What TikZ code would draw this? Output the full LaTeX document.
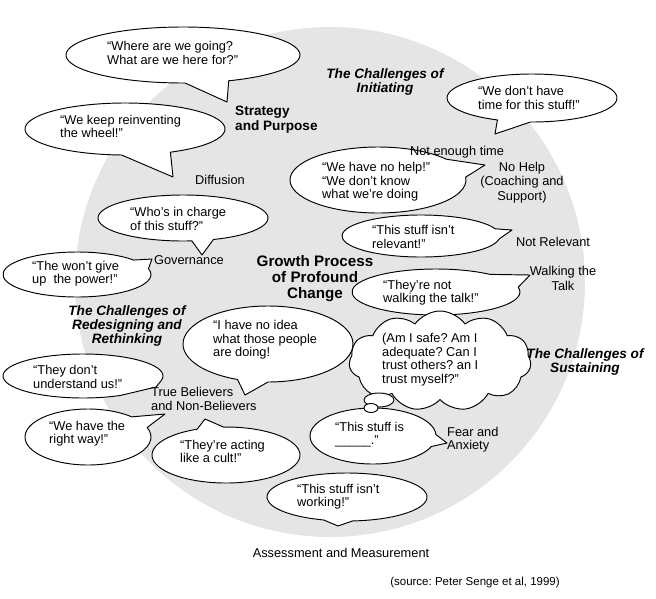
\documentclass[tikz,border=0pt]{standalone}
\usepackage{fontspec}
\setmainfont{Liberation Sans}
\usetikzlibrary{shapes.symbols}
\frenchspacing
\tikzset{
  bubble/.style={draw=black, line width=0.95pt, fill=white, line join=round},
  txt/.style={inner sep=0pt, align=left, anchor=west, font=\fontsize{12.8}{13.6}\selectfont},
  ctxt/.style={inner sep=0pt, align=center, font=\fontsize{12.8}{14.2}\selectfont},
  head/.style={inner sep=0pt, align=center, font=\fontsize{13.6}{14.2}\selectfont\bfseries\itshape},
  bold/.style={inner sep=0pt, align=left, anchor=west, font=\fontsize{13.6}{15}\selectfont\bfseries},
  title/.style={inner sep=0pt, align=center, font=\fontsize{15.2}{16}\selectfont\bfseries},
}
% name, cx, cy, rx, ry, t1, t2, tipx, tipy
\newcommand{\speechbub}[9]{%
  \coordinate (#1) at (#2,-#3);
  \coordinate (#1tip) at (#8,-#9);
  \draw[bubble] (#1) ++(#7:#4pt and #5pt)
    arc[start angle=#7, end angle=#6+360, x radius=#4pt, y radius=#5pt]
    -- (#1tip) -- cycle;
}
\begin{document}
\frenchspacing
\begin{tikzpicture}[x=1pt,y=1pt]
\useasboundingbox (0,0) rectangle (656,-598);
\fill[black!10] (330,-282) circle[radius=255pt];

\speechbub{where}{183}{55}{117}{28}{-89}{-67}{227}{102}
\speechbub{wheel}{125}{129}{100}{26}{-92}{-63}{173}{177}
\speechbub{time}{532}{98}{85}{24}{-114}{-91}{495}{134}
\speechbub{help}{378}{180}{88}{33}{5}{39}{485}{165}
\speechbub{relev}{421}{236}{79}{21}{-8}{20}{512}{230}
\speechbub{charge}{183}{218}{85}{23}{-84}{-69}{202}{255}
\speechbub{power}{77}{274.5}{74}{22.5}{15}{40}{152}{259}
\speechbub{idea}{268}{344}{85}{38}{-111}{-90}{245}{395}
\speechbub{under}{83}{376}{80}{22}{-62}{-12}{156}{387}
\speechbub{right}{88}{437}{63}{28}{20}{46}{165}{414}
\speechbub{cult}{226}{455}{74}{28}{92}{113}{205}{419}
\speechbub{walk}{436}{292}{84}{23}{12}{50}{530}{275}

\node[cloud, bubble, cloud puffs=11, cloud puff arc=110, aspect=1.9,
      minimum width=182pt, minimum height=100pt, inner sep=0pt] (cloud) at (440,-361) {};
\speechbub{blank}{373}{436}{63}{28}{-22}{3}{447}{443}
\draw[bubble] (379,-400) ellipse[x radius=15pt, y radius=7pt];
\draw[bubble] (371,-408) ellipse[x radius=7pt, y radius=4.5pt];
\speechbub{work}{347}{497}{80}{24}{-107}{-86}{338}{526}

% bubble texts
\node[txt] (twhere) at (107,-53) {“Where are we going?\\What are we here for?”};
\node[txt] (twheel) at (60,-126.5) {“We keep reinventing\\the wheel!”};
\node[txt] (ttime) at (478,-98) {“We don’t have\\time for this stuff!”};
\node[txt] (thelp) at (322,-182) {“We have no help!”\\“We don’t know\\what we’re doing};
\node[txt] (trelev) at (372,-237) {“This stuff isn’t\\relevant!”};
\node[txt] (tcharge) at (130,-219) {“Who’s in charge\\of this stuff?”};
\node[txt] (tpower) at (32,-273.5) {“The won’t give\\up\ \ the power!”};
\node[txt] (tidea) at (213,-340) {“I have no idea\\what those people\\are doing!};
\node[txt] (tunder) at (33,-377) {“They don’t\\understand us!”};
\node[txt] (tright) at (49,-433.5) {“We have the\\right way!”};
\node[txt] (tcult) at (180,-451.5) {“They’re acting\\like a cult!”};
\node[txt] (twalk) at (383,-292.5) {“They’re not\\walking the talk!”};
\node[txt] (tcloud) at (382,-359.5) {(Am I safe? Am I\\adequate? Can I\\trust others? an I\\trust myself?”};
\node[txt] (tblank) at (335,-434.5) {“This stuff is\\\_\_\_\_\_.”};
\node[txt] (twork) at (297,-496.5) {“This stuff isn’t\\working!”};

% labels
\node[bold] (strategy) at (235,-119.5) {Strategy\\and Purpose};
\node[head] (initiating) at (385,-82) {The Challenges of\\Initiating};
\node[ctxt] (notime) at (457,-152) {Not enough time};
\node[ctxt] (nohelp) at (522,-182.5) {No Help\\(Coaching and\\Support)};
\node[ctxt] (diffusion) at (220,-180) {Diffusion};
\node[ctxt] (notrel) at (553,-242) {Not Relevant};
\node[ctxt] (governance) at (189,-260) {Governance};
\node[title] (growth) at (315,-279) {Growth Process\\of Profound\\Change};
\node[head] (redesign) at (127,-326) {The Challenges of\\Redesigning and\\Rethinking};
\node[ctxt] (walking) at (563,-278.5) {Walking the\\Talk};
\node[head] (sustain) at (585,-362) {The Challenges of\\Sustaining};
\node[txt] (believers) at (151,-399) {True Believers\\and Non-Believers};
\node[txt] (fear) at (447,-439.5) {Fear and\\Anxiety};
\node[ctxt] (assess) at (341,-553) {Assessment and Measurement};
\node[inner sep=0pt, font=\fontsize{11.5}{13}\selectfont] (source) at (475,-583) {(source: Peter Senge et al, 1999)};
\end{tikzpicture}
\end{document}
